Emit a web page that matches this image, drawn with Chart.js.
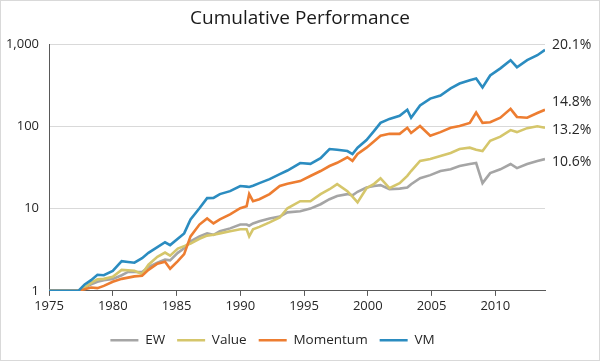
<!DOCTYPE html>
<html>
<head>
<meta charset="utf-8">
<script src="https://cdn.jsdelivr.net/npm/chart.js@4/dist/chart.umd.min.js"></script>
<style>
  html, body { margin: 0; padding: 0; background: #fff; }
  #wrap { width: 600px; height: 361px; position: relative; }
</style>
</head>
<body>
<div id="wrap"><canvas id="chart"></canvas></div>
<script>
// dates (fractional years) shared by all four series
const dates = [1975, 1977.3, 1977.8, 1978.3, 1978.8, 1979.3, 1980, 1980.7, 1981.2, 1981.7,
  1982.3, 1982.8, 1983.5, 1984.1, 1984.5, 1985.1, 1985.6, 1986.1, 1986.8, 1987.4,
  1987.9, 1988.4, 1989.2, 1990, 1990.5, 1990.7, 1991, 1991.5, 1992.3, 1993.1,
  1993.7, 1994.7, 1995.5, 1996.3, 1997, 1997.6, 1998.4, 1998.8, 1999.2, 1999.9,
  2000.5, 2001, 2001.7, 2002.5, 2003.1, 2003.4, 2004.1, 2004.9, 2005.7, 2006.5,
  2007.2, 2008, 2008.5, 2009, 2009.6, 2010.4, 2011.2, 2011.7, 2012.5, 2013.3, 2013.9];

const ew = [1, 1, 1.1, 1.2, 1.29, 1.35, 1.4, 1.55, 1.7, 1.7,
  1.7, 1.95, 2.2, 2.4, 2.35, 2.9, 3.3, 4.0, 4.6, 5.0,
  4.8, 5.3, 5.75, 6.4, 6.4, 6.2, 6.6, 7.0, 7.6, 8.0,
  9.0, 9.3, 10, 11.3, 13, 14.2, 15, 14.5, 16, 18,
  18.8, 19.3, 17.2, 17.5, 18, 19.8, 23.4, 25.5, 28.6, 30,
  32.9, 34.8, 35.8, 20.4, 27, 30, 34.8, 31, 34.8, 37.9, 40];

const value = [1, 1, 1.1, 1.25, 1.38, 1.4, 1.48, 1.8, 1.78, 1.76,
  1.6, 2.08, 2.6, 2.92, 2.68, 3.26, 3.5, 3.76, 4.3, 4.7,
  4.8, 5.0, 5.3, 5.6, 5.6, 4.6, 5.6, 6.0, 6.8, 7.8,
  10.1, 12.3, 12.3, 15, 17.2, 19.8, 16.3, 14, 11.9, 17.7,
  20, 23.4, 17.7, 20.4, 25, 28.6, 37.9, 40, 43.6, 47.5,
  53, 55, 52, 50, 66.8, 75, 90, 85, 95, 100, 96];

const momentum = [1, 1, 1.05, 1.1, 1.08, 1.15, 1.29, 1.4, 1.45, 1.5,
  1.53, 1.8, 2.14, 2.26, 1.86, 2.3, 2.8, 4.6, 6.4, 7.6,
  6.6, 7.4, 8.5, 10.1, 10.7, 15, 12.3, 13, 15, 18.8,
  20, 21.6, 24.9, 28.6, 32.9, 36, 42, 38, 46, 55,
  66, 76.7, 81, 81, 96, 83, 101, 77, 85, 96,
  101, 110, 147, 110, 112, 127, 163, 130, 127, 145, 159];

const vm = [1, 1, 1.2, 1.35, 1.57, 1.55, 1.75, 2.3, 2.25, 2.2,
  2.5, 2.9, 3.4, 3.9, 3.6, 4.3, 5.0, 7.4, 10.1, 13.4,
  13.5, 15, 16.3, 18.8, 18.5, 18.3, 19, 20.4, 22.8, 26.2,
  29, 35.8, 35, 41, 53, 52, 50, 46, 55, 68,
  88, 110, 123, 134, 159, 127, 179, 217, 237, 289,
  331, 362, 381, 297, 415, 506, 636, 522, 636, 730, 850];

const seriesNames = ['EW', 'Value', 'Momentum', 'VM'];
const colors = ['#a5a5a5', '#d5c66b', '#ed7d31', '#2b8cc0'];
const endLabels = ['10.6%', '13.2%', '14.8%', '20.1%'];
const endLabelAt = [37, 91, 195, 970];   // where each label sits on the y axis
const xTicks = [1975, 1980, 1985, 1990, 1995, 2000, 2005, 2010];
const yTicks = [1, 10, 100, 1000];

const FONT = '"Open Sans", "Noto Sans", sans-serif';

const allSeries = [ew, value, momentum, vm];
const datasets = allSeries.map((vals, i) => ({
  label: seriesNames[i],
  data: vals.map((v, j) => ({ x: dates[j], y: v })),
  borderColor: colors[i],
  backgroundColor: colors[i],
  borderWidth: 2.6,
  pointRadius: 0,
  tension: 0,
  order: 3 - i
}));

const extras = {
  id: 'extras',
  afterDraw(chart) {
    const ctx = chart.ctx;
    const y = chart.scales.y;
    const area = chart.chartArea;
    ctx.save();
    // title
    ctx.fillStyle = '#1a1a1a';
    ctx.font = '19px ' + FONT;
    ctx.textAlign = 'center';
    ctx.textBaseline = 'middle';
    ctx.fillText('Cumulative Performance', 300, 19);
    // end-of-line labels
    ctx.font = '14px ' + FONT;
    ctx.textAlign = 'left';
    ctx.fillStyle = '#262626';
    endLabels.forEach((t, i) => {
      ctx.fillText(t, area.right + 7, y.getPixelForValue(endLabelAt[i]));
    });
    // light frame
    ctx.strokeStyle = '#d9d9d9';
    ctx.lineWidth = 1;
    ctx.strokeRect(0.5, 0.5, chart.width - 1, chart.height - 1);
    ctx.restore();
  }
};

new Chart(document.getElementById('chart'), {
  type: 'line',
  data: { datasets },
  options: {
    responsive: true,
    maintainAspectRatio: false,
    animation: false,
    layout: { padding: { top: 44, left: 0, right: 55, bottom: 4 } },
    plugins: {
      title: { display: false },
      tooltip: { enabled: false },
      legend: {
        position: 'bottom',
        labels: {
          usePointStyle: true,
          pointStyle: 'line',
          pointStyleWidth: 28,
          padding: 12,
          color: '#262626',
          font: { family: FONT, size: 13.5 },
          sort: (a, b) => a.datasetIndex - b.datasetIndex
        }
      }
    },
    scales: {
      x: {
        type: 'linear',
        min: 1975,
        max: 2013.9,
        afterBuildTicks: s => { s.ticks = xTicks.map(v => ({ value: v })); },
        afterFit: s => { s.height += 4; },
        ticks: {
          padding: 3,
          color: '#262626',
          font: { family: FONT, size: 13 },
          maxRotation: 0,
          callback: v => String(v)
        },
        grid: { drawOnChartArea: false, drawTicks: true, tickLength: 5, color: '#595959' },
        border: { color: '#595959', width: 1 }
      },
      y: {
        type: 'logarithmic',
        min: 1,
        max: 1000,
        afterFit: s => { s.width = 49; },
        afterBuildTicks: s => { s.ticks = yTicks.map(v => ({ value: v })); },
        ticks: {
          padding: 10,
          color: '#262626',
          font: { family: FONT, size: 13 },
          callback: v => Number(v).toLocaleString('en-US')
        },
        grid: { color: '#d9d9d9', drawTicks: false },
        border: { color: '#595959', width: 1 }
      }
    }
  },
  plugins: [extras]
});
</script>
</body>
</html>
